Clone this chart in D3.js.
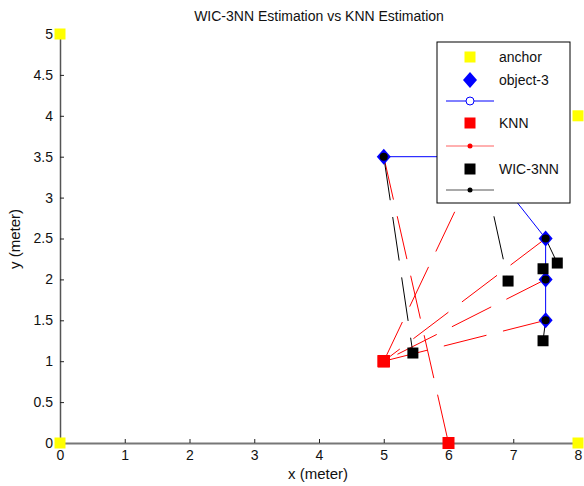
<!DOCTYPE html>
<html>
<head>
<meta charset="utf-8">
<script src="https://cdn.jsdelivr.net/npm/d3@7"></script>
<style>
  body { margin: 0; background: #fff; }
  text { font-family: "Liberation Sans", Arial, sans-serif; }
</style>
</head>
<body>
<script>
(function(){
    var width = 584,
        height = 486;

    // anchors
    var anchorX = [0, 0, 8, 8];
    var anchorY = [0, 5, 0, 4];
    // object-3 true track
    var objX = [5, 6.5, 7.5, 7.5, 7.5];
    var objY = [3.5, 3.5, 2.5, 2.0, 1.5];
    // KNN estimates (one per object point)
    var knnX = [6, 5, 5, 5, 5];
    var knnY = [0, 1, 1, 1, 1];
    // WIC-3NN estimates
    var wicX = [5.45, 6.92, 7.68, 7.46, 7.46];
    var wicY = [1.10, 1.98, 2.20, 2.13, 1.25];

    var xTicks = [0, 1, 2, 3, 4, 5, 6, 7, 8];
    var yTicks = [0, 0.5, 1, 1.5, 2, 2.5, 3, 3.5, 4, 4.5, 5];

    var svg = d3.select("body").append("svg")
                .attr("width", width)
                .attr("height", height);

    var x = d3.scaleLinear().domain([0, 8]).range([60, 578]);
    var y = d3.scaleLinear().domain([0, 5]).range([443, 34]);

    // title
    svg.append("text")
       .attr("x", 319).attr("y", 21)
       .attr("text-anchor", "middle")
       .attr("font-size", 14)
       .attr("fill", "#111")
       .text("WIC-3NN Estimation vs KNN Estimation");

    // axes
    var xAxis = svg.append("g")
                   .attr("transform", "translate(0," + y(0) + ")")
                   .call(d3.axisBottom(x).tickValues(xTicks).tickSizeInner(-4).tickSizeOuter(0).tickPadding(7));
    xAxis.select(".domain").attr("stroke", "#777").attr("stroke-width", 2);

    var yAxis = svg.append("g")
                   .attr("transform", "translate(" + x(0) + ",0)")
                   .call(d3.axisLeft(y).tickValues(yTicks).tickSizeInner(-4).tickSizeOuter(0).tickPadding(7)
                           .tickFormat(d3.format("")));
    yAxis.select(".domain").attr("stroke", "#555").attr("stroke-width", 1.5);

    svg.selectAll(".tick text").attr("font-size", 14).attr("fill", "#111")
       .style("font-family", "'Liberation Sans', Arial, sans-serif");
    svg.selectAll(".tick line").attr("stroke", "#222");

    svg.append("text")
       .attr("x", 318).attr("y", 479)
       .attr("text-anchor", "middle")
       .attr("font-size", 15)
       .attr("fill", "#111")
       .text("x (meter)");

    svg.append("text")
       .attr("transform", "translate(20,239) rotate(-90)")
       .attr("text-anchor", "middle")
       .attr("font-size", 15)
       .attr("fill", "#111")
       .text("y (meter)");

    var plot = svg.append("g");

    // blue true track
    var line = d3.line().x(function(d){ return x(d[0]); }).y(function(d){ return y(d[1]); });
    plot.append("path")
        .attr("d", line(d3.zip(objX, objY)))
        .attr("fill", "none")
        .attr("stroke", "#0000ff")
        .attr("stroke-width", 1);

    // KNN error lines
    objX.forEach(function(ox, i){
        plot.append("line")
            .attr("x1", x(ox)).attr("y1", y(objY[i]))
            .attr("x2", x(knnX[i])).attr("y2", y(knnY[i]))
            .attr("stroke", "#ff0000")
            .attr("stroke-width", 1)
            .attr("stroke-dasharray", "44,17");
    });

    // WIC-3NN error lines
    objX.forEach(function(ox, i){
        plot.append("line")
            .attr("x1", x(ox)).attr("y1", y(objY[i]))
            .attr("x2", x(wicX[i])).attr("y2", y(wicY[i]))
            .attr("stroke", "#000")
            .attr("stroke-width", 1)
            .attr("stroke-dasharray", "44,17");
    });

    // object diamonds
    var diamond = "M0,-8 L7,0 L0,8 L-7,0 Z";
    plot.selectAll(".obj").data(d3.zip(objX, objY)).enter().append("path")
        .attr("class", "obj")
        .attr("transform", function(d){ return "translate(" + x(d[0]) + "," + y(d[1]) + ")"; })
        .attr("d", diamond)
        .attr("fill", "#0000ff");

    // black dots at object points
    plot.selectAll(".dot").data(d3.zip(objX, objY)).enter().append("circle")
        .attr("class", "dot")
        .attr("cx", function(d){ return x(d[0]); })
        .attr("cy", function(d){ return y(d[1]); })
        .attr("r", 4)
        .attr("fill", "#000");

    function squares(xs, ys, color, size){
        plot.append("g").selectAll("rect").data(d3.zip(xs, ys)).enter().append("rect")
            .attr("x", function(d){ return x(d[0]) - size / 2; })
            .attr("y", function(d){ return y(d[1]) - size / 2; })
            .attr("width", size).attr("height", size)
            .attr("fill", color);
    }
    squares(wicX, wicY, "#000", 11);
    squares(knnX, knnY, "#ff0000", 12);
    squares(anchorX, anchorY, "#ffff00", 11);

    // legend
    var lg = svg.append("g");
    lg.append("rect")
      .attr("x", 437).attr("y", 42)
      .attr("width", 133).attr("height", 161)
      .attr("fill", "#fff")
      .attr("stroke", "#000").attr("stroke-width", 1);

    var mx = 470, tx = 499;
    lg.append("rect").attr("x", mx - 5.5).attr("y", 57 - 5.5).attr("width", 11).attr("height", 11).attr("fill", "#ffff00");
    lg.append("text").attr("x", tx).attr("y", 62).attr("font-size", 14).attr("fill", "#111").text("anchor");

    lg.append("path").attr("transform", "translate(" + mx + ",80)").attr("d", diamond).attr("fill", "#0000ff");
    lg.append("text").attr("x", tx).attr("y", 85).attr("font-size", 14).attr("fill", "#111").text("object-3");

    lg.append("line").attr("x1", 446).attr("x2", 494).attr("y1", 101).attr("y2", 101).attr("stroke", "#0000ff");
    lg.append("circle").attr("cx", mx).attr("cy", 101).attr("r", 4).attr("fill", "#fff").attr("stroke", "#0000ff");

    lg.append("rect").attr("x", mx - 5.5).attr("y", 123 - 5.5).attr("width", 11).attr("height", 11).attr("fill", "#ff0000");
    lg.append("text").attr("x", tx).attr("y", 128).attr("font-size", 14).attr("fill", "#111").text("KNN");

    lg.append("line").attr("x1", 446).attr("x2", 494).attr("y1", 146).attr("y2", 146).attr("stroke", "#ff6060");
    lg.append("circle").attr("cx", mx).attr("cy", 146).attr("r", 2.5).attr("fill", "#ff0000");

    lg.append("rect").attr("x", mx - 5.5).attr("y", 169 - 5.5).attr("width", 11).attr("height", 11).attr("fill", "#000");
    lg.append("text").attr("x", tx).attr("y", 174).attr("font-size", 14).attr("fill", "#111").text("WIC-3NN");

    lg.append("line").attr("x1", 446).attr("x2", 494).attr("y1", 190).attr("y2", 190).attr("stroke", "#555");
    lg.append("circle").attr("cx", mx).attr("cy", 190).attr("r", 2.5).attr("fill", "#000");
})();
</script>
</body>
</html>
